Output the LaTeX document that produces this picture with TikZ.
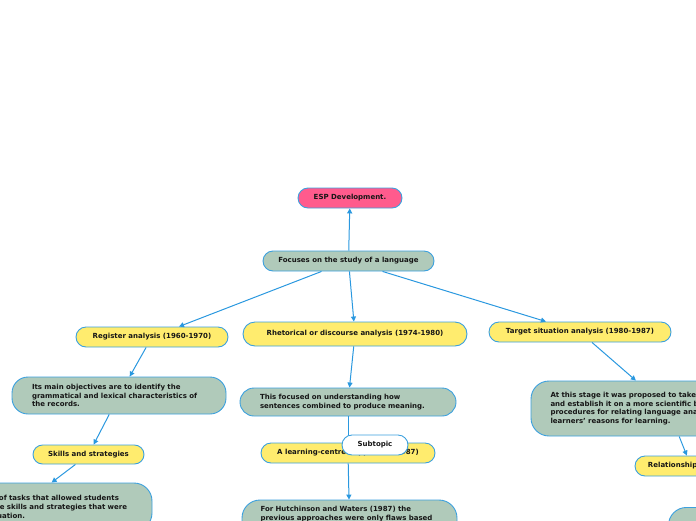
\documentclass[tikz,border=0pt]{standalone}
\usepackage{fontspec}
\setmainfont{DejaVu Sans}
\usetikzlibrary{arrows.meta}
\definecolor{pinkc}{HTML}{FF5B8D}
\definecolor{greenc}{HTML}{B0CABA}
\definecolor{yelc}{HTML}{FFEC6E}
\definecolor{bordc}{HTML}{3BA0DE}
\definecolor{linec}{HTML}{2A98DF}
\definecolor{txtc}{HTML}{161616}
\begin{document}
\begin{tikzpicture}[x=1pt,y=-1pt,
  font=\fontsize{7}{8.8}\selectfont\bfseries,
  box/.style={draw=bordc, line width=0.9pt, text=txtc, inner sep=0pt},
  single/.style={box, rounded corners=10pt, minimum height=20pt, align=center},
  multi/.style={box, align=left, inner xsep=20pt, inner ysep=0pt},
  yel/.style={fill=yelc},
  grn/.style={fill=greenc},
  conn/.style={draw=linec, line width=1pt, -{Triangle[length=5pt,width=5pt]}}
]
\useasboundingbox (0,0) rectangle (696,520);
\clip (0,0) rectangle (696,520);

\node[single, fill=pinkc, minimum width=104pt] (esp) at (350,198) {ESP Development.};
\node[single, grn, minimum width=171pt] (focus) at (348.5,261) {Focuses on the study of a language};
\node[single, yel, minimum width=152pt] (reg) at (152,337) {Register analysis (1960-1970)};
\node[single, yel, minimum width=224pt, minimum height=24pt, rounded corners=12pt] (rhet) at (355,334) {Rhetorical or discourse analysis (1974-1980)};
\node[single, yel, minimum width=182pt] (target) at (580,332) {Target situation analysis (1980-1987)};

\node[multi, grn, rounded corners=16pt, text width=174pt, minimum height=37pt] (obj) at (119,395.5)
  {Its main objectives are to identify the\\grammatical and lexical characteristics of\\the records.};
\node[multi, grn, rounded corners=14pt, text width=176pt, minimum height=28pt] (focused) at (348,402)
  {This focused on understanding how\\sentences combined to produce meaning.};
\node[multi, grn, rounded corners=18pt, text width=235pt, minimum height=55pt, inner xsep=19.5pt] (stage) at (668,408.5)
  {At this stage it was proposed to take the existing\\and establish it on a more scientific basis by\\procedures for relating language analysis more\\learners' reasons for learning.};

\node[single, yel, minimum width=111pt, minimum height=19pt, rounded corners=9.5pt] (skills) at (88.5,454.5) {Skills and strategies};
\node[multi, grn, rounded corners=18pt, text width=225pt, minimum height=48pt] (tasks) at (19.5,507)
  {The creation of the set of tasks that allowed students\\to recognise and use the skills and strategies that were\\needed in their real situation.};

\node[single, yel, minimum width=174pt] (learn) at (348,453) {A learning-centred approach (1987)};
\node[multi, grn, rounded corners=18pt, text width=178pt, inner xsep=18.5pt, minimum height=46.4pt] (hutch) at (349.5,523.2)
  {For Hutchinson and Waters (1987) the\\previous approaches were only flaws based\\on language use and did not consider\\language learning.};

\node[single, yel, minimum width=112pt] (rel) at (691,466) {Relationship to needs};
\node[multi, grn, rounded corners=18pt, text width=160pt, minimum height=60pt, anchor=north west] (bottomr) at (668,507) {};

\draw[conn] (focus) -- (esp);
\draw[conn] (focus) -- (reg);
\draw[conn] (focus) -- (rhet);
\draw[conn] (focus) -- (target);
\draw[conn] (reg) -- (obj);
\draw[conn] (obj) -- (skills);
\draw[conn] (skills) -- (tasks);
\draw[conn] (rhet) -- (focused);
\draw[conn] (focused) -- (learn);
\draw[conn] (learn) -- (hutch);
\draw[conn] (target) -- (stage);
\draw[conn] (stage) -- (rel);

\node[single, fill=white, minimum width=66pt] (sub) at (375,445) {Subtopic};
\end{tikzpicture}
\end{document}
